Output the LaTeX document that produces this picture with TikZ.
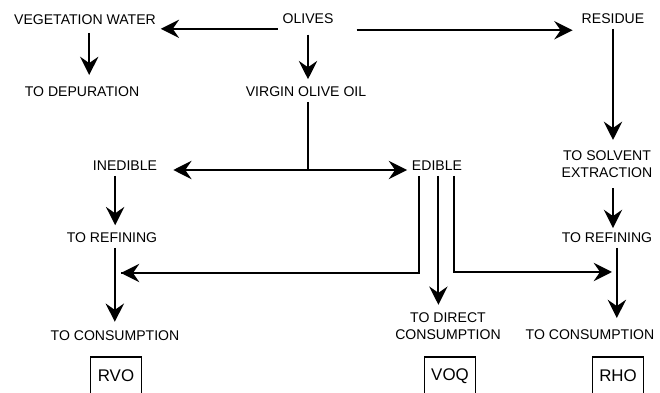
\documentclass[tikz,border=0pt]{standalone}
\usepackage{fontspec}
\setmainfont{Liberation Sans}
\usepackage{tikz}
\usetikzlibrary{arrows.meta, positioning}

\begin{document}
\begin{tikzpicture}[
  x=0.025cm, y=-0.025cm,
  lbl/.style={align=center, font=\fontsize{10}{12}\selectfont},
  tagbox/.style={draw, line width=1.1pt, minimum width=36pt, minimum height=27pt, font=\fontsize{12}{14}\selectfont},
  arr/.style={-{Stealth[length=13pt, width=13pt, inset=4.5pt]}, line width=1.5pt},
  plain/.style={line width=1.5pt}
]
\useasboundingbox (0,0) rectangle (660,393);

% top row
\node[lbl] (olives) at (308,19) {OLIVES};
\node[lbl] (vegwater) at (85,20) {VEGETATION WATER};
\node[lbl] (residue) at (613,19) {RESIDUE};
\node[lbl] (depuration) at (82,92) {TO DEPURATION};
\node[lbl] (virgin) at (306,92) {VIRGIN OLIVE OIL};
\node[lbl] (solvent) at (607,164) {TO SOLVENT\\EXTRACTION};

% middle
\node[lbl] (inedible) at (125,166) {INEDIBLE};
\node[lbl] (edible) at (437,166) {EDIBLE};
\node[lbl] (refiningL) at (112,238) {TO REFINING};
\node[lbl] (refiningR) at (607,238) {TO REFINING};

% bottom
\node[lbl] (consumptionL) at (115,336) {TO CONSUMPTION};
\node[lbl] (direct) at (448,326) {TO DIRECT\\CONSUMPTION};
\node[lbl] (consumptionR) at (590,335) {TO CONSUMPTION};
\node[tagbox] (rvo) at (116,376) {RVO};
\node[tagbox] (voq) at (450,376) {VOQ};
\node[tagbox] (rho) at (618,376) {RHO};

\coordinate (split) at (308,170);
\coordinate (joinL) at (121,273);
\coordinate (joinR) at (612,272);

\draw[arr] ([yshift=-7pt]olives.west) -- ([yshift=-7pt]olives.west -| vegwater.east);
\draw[arr, shorten >=3pt] ([shift={(13pt,-8pt)}]olives.east) -- ([yshift=-8pt]residue.west);
\draw[arr, shorten <=2pt, shorten >=5pt] ([xshift=3pt]vegwater.south) -- ([xshift=3pt]vegwater.south |- depuration.north);
\draw[arr, shorten <=4pt, shorten >=2pt] (olives.south) -- (olives.south |- virgin.north);
\draw[plain] (virgin.south -| split) -- (split);
\draw[arr, shorten >=8pt] (split) -- (split -| inedible.east);
\draw[arr] (split) -- (split -| edible.west);
\draw[arr, shorten >=4pt] (residue.south) -- (residue.south |- solvent.north);
\draw[arr, shorten <=4pt] (residue.south |- solvent.south) -- (residue.south |- refiningR.north);
\draw[arr, shorten >=2pt] ([xshift=-7pt]inedible.south) -- ([xshift=-7pt]inedible.south |- refiningL.north);
\draw[arr, shorten >=3pt] ([xshift=2pt]refiningL.south) -- ([xshift=2pt]refiningL.south |- consumptionL.north);
\draw[plain] ([xshift=-13pt]edible.south) |- (joinL);
\draw[arr] ([xshift=-13pt]edible.south |- joinL) -- (joinL);
\draw[arr, shorten >=2pt] ([xshift=1pt]edible.south) -- ([xshift=1pt]edible.south |- direct.north);
\draw[arr] ([xshift=12pt]edible.south) |- (joinR);
\draw[arr, shorten >=5pt] ([xshift=7pt]refiningR.south) -- ([xshift=7pt]refiningR.south |- consumptionR.north);
\end{tikzpicture}
\end{document}
